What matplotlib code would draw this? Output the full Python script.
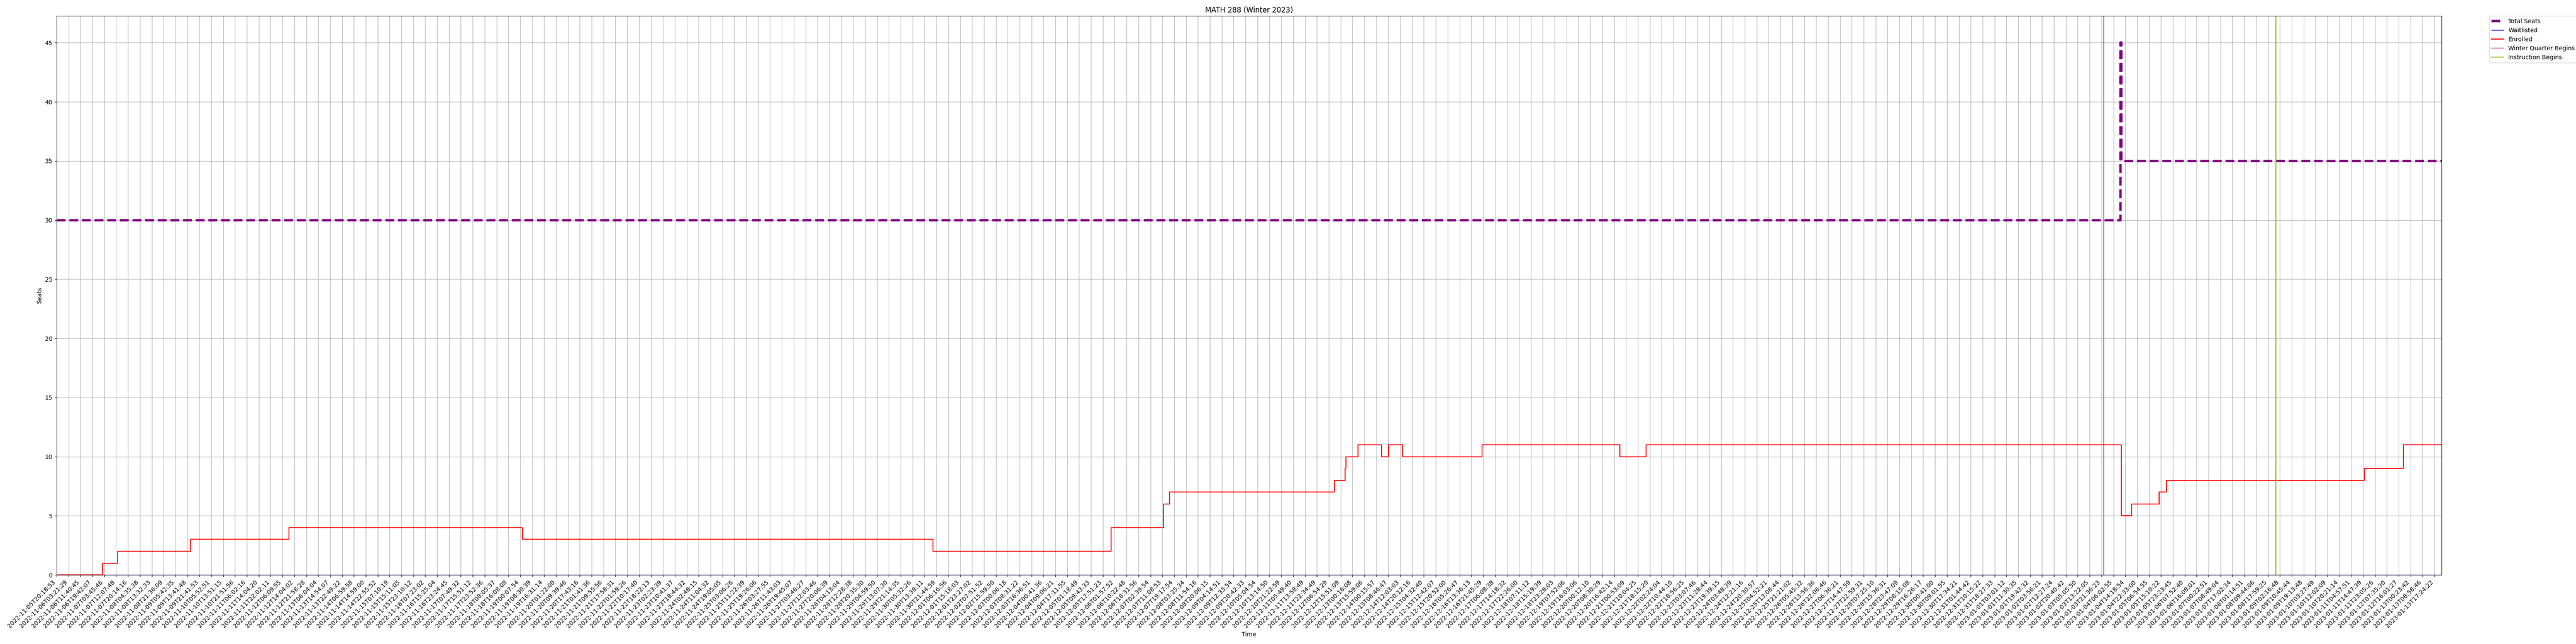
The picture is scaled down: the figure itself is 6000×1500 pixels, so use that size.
import matplotlib
matplotlib.use("Agg")
import matplotlib.pyplot as plt

# ---------------- data ----------------
time_labels = [
    "2022-11-05T20:18:53", "2022-11-06T03:21:29", "2022-11-06T11:40:45", "2022-11-06T19:42:07",
    "2022-11-07T03:45:46", "2022-11-07T12:07:48", "2022-11-07T20:14:16", "2022-11-08T04:35:38",
    "2022-11-08T13:32:33", "2022-11-08T21:36:09", "2022-11-09T05:42:35", "2022-11-09T13:41:48",
    "2022-11-09T21:41:53", "2022-11-10T05:52:51", "2022-11-10T13:51:15", "2022-11-10T21:51:56",
    "2022-11-11T06:02:16", "2022-11-11T14:04:20", "2022-11-11T22:02:11", "2022-11-12T06:09:55",
    "2022-11-12T14:04:02", "2022-11-12T21:58:28", "2022-11-13T06:04:04", "2022-11-13T14:54:07",
    "2022-11-13T22:49:22", "2022-11-14T06:59:58", "2022-11-14T14:59:00", "2022-11-14T22:55:52",
    "2022-11-15T07:10:19", "2022-11-15T15:11:05", "2022-11-15T23:10:12", "2022-11-16T07:23:02",
    "2022-11-16T15:25:04", "2022-11-16T23:24:45", "2022-11-17T07:49:32", "2022-11-17T15:51:12",
    "2022-11-17T23:52:36", "2022-11-18T08:05:37", "2022-11-18T16:08:08", "2022-11-19T00:07:54",
    "2022-11-19T08:30:39", "2022-11-19T16:31:14", "2022-11-20T01:22:00", "2022-11-20T09:39:46",
    "2022-11-20T17:43:16", "2022-11-21T01:41:36", "2022-11-21T09:55:56", "2022-11-21T17:58:31",
    "2022-11-22T01:59:26", "2022-11-22T10:17:40", "2022-11-22T18:22:13", "2022-11-23T02:23:39",
    "2022-11-23T10:41:37", "2022-11-23T18:44:32", "2022-11-24T02:48:15", "2022-11-24T11:04:32",
    "2022-11-24T19:05:05", "2022-11-25T03:06:26", "2022-11-25T11:22:39", "2022-11-25T19:26:06",
    "2022-11-26T03:27:55", "2022-11-26T11:43:03", "2022-11-26T19:45:07", "2022-11-27T03:46:27",
    "2022-11-27T12:03:46", "2022-11-27T20:06:39", "2022-11-28T04:13:04", "2022-11-28T12:28:38",
    "2022-11-28T20:35:30", "2022-11-29T04:59:50", "2022-11-29T13:07:30", "2022-11-29T21:14:35",
    "2022-11-30T05:32:26", "2022-11-30T13:39:11", "2022-11-30T21:44:59", "2022-12-01T06:16:56",
    "2022-12-01T15:18:03", "2022-12-01T23:27:02", "2022-12-02T07:51:52", "2022-12-02T15:59:50",
    "2022-12-03T00:06:18", "2022-12-03T08:31:22", "2022-12-03T16:36:51", "2022-12-04T00:41:36",
    "2022-12-04T09:06:21", "2022-12-04T17:11:55", "2022-12-05T01:18:49", "2022-12-05T09:43:33",
    "2022-12-05T17:51:23", "2022-12-06T01:57:52", "2022-12-06T10:22:48", "2022-12-06T18:31:56",
    "2022-12-07T02:39:54", "2022-12-07T11:08:53", "2022-12-07T19:17:54", "2022-12-08T03:25:34",
    "2022-12-08T11:54:16", "2022-12-08T20:06:15", "2022-12-09T04:14:51", "2022-12-09T12:33:54",
    "2022-12-09T20:42:33", "2022-12-10T05:04:54", "2022-12-10T13:14:50", "2022-12-10T21:22:59",
    "2022-12-11T05:49:40", "2022-12-11T13:58:49", "2022-12-11T22:34:49", "2022-12-12T06:54:29",
    "2022-12-12T15:51:09", "2022-12-13T00:16:08", "2022-12-13T15:59:06", "2022-12-14T00:15:57",
    "2022-12-13T08:46:47", "2022-12-14T12:03:03", "2022-12-14T20:12:16", "2022-12-15T04:32:40",
    "2022-12-15T12:42:07", "2022-12-15T20:52:00", "2022-12-16T05:26:47", "2022-12-16T13:36:13",
    "2022-12-16T21:45:29", "2022-12-17T06:08:38", "2022-12-17T14:18:32", "2022-12-17T22:26:00",
    "2022-12-18T07:11:12", "2022-12-18T15:19:39", "2022-12-18T23:28:03", "2022-12-19T07:52:06",
    "2022-12-19T16:03:06", "2022-12-20T00:12:10", "2022-12-20T08:30:29", "2022-12-20T16:42:14",
    "2022-12-21T00:53:09", "2022-12-21T10:04:25", "2022-12-21T18:15:20", "2022-12-22T02:24:04",
    "2022-12-22T10:44:10", "2022-12-22T18:56:25", "2022-12-23T03:07:46", "2022-12-23T11:28:44",
    "2022-12-23T19:39:15", "2022-12-24T03:48:39", "2022-12-24T12:21:16", "2022-12-24T20:30:57",
    "2022-12-25T04:52:21", "2022-12-25T13:08:44", "2022-12-25T21:21:02", "2022-12-26T05:45:32",
    "2022-12-26T13:56:36", "2022-12-26T22:06:46", "2022-12-27T06:36:21", "2022-12-27T14:47:59",
    "2022-12-27T22:59:31", "2022-12-28T07:25:10", "2022-12-28T15:36:31", "2022-12-28T23:47:09",
    "2022-12-29T08:15:08", "2022-12-29T16:26:17", "2022-12-30T00:41:00", "2022-12-30T09:01:55",
    "2022-12-30T17:34:21", "2022-12-31T01:44:42", "2022-12-31T10:15:22", "2022-12-31T18:27:33",
    "2023-01-01T03:01:12", "2023-01-01T11:30:35", "2023-01-01T19:43:32", "2023-01-02T03:56:21",
    "2023-01-02T12:27:24", "2023-01-02T20:40:42", "2023-01-03T05:05:50", "2023-01-03T13:22:05",
    "2023-01-03T21:36:23", "2023-01-04T06:02:55", "2023-01-04T14:18:54", "2023-01-04T22:33:00",
    "2023-01-05T06:54:55", "2023-01-05T15:10:22", "2023-01-05T23:23:45", "2023-01-06T07:52:40",
    "2023-01-06T16:08:01", "2023-01-07T00:22:51", "2023-01-07T08:49:04", "2023-01-07T17:02:34",
    "2023-01-08T01:14:51", "2023-01-08T09:44:06", "2023-01-08T17:59:25", "2023-01-09T02:16:48",
    "2023-01-09T10:45:44", "2023-01-09T19:13:48", "2023-01-10T03:27:49", "2023-01-10T12:02:09",
    "2023-01-10T20:21:14", "2023-01-11T04:57:51", "2023-01-11T14:47:39", "2023-01-11T23:05:26",
    "2023-01-12T07:35:30", "2023-01-12T16:01:27", "2023-01-13T00:23:42", "2023-01-13T08:58:46",
    "2023-01-13T17:24:22",
]

# positions (in label-index units) where values change, and the values from there on
total_pos = [0, 173.60, 173.66, 200.6]
total_seats = [30, 45, 35, 35]

waitlist_pos = [0, 200.6]
waitlisted = [0, 0]

enrolled_pos = [0, 3.87, 5.14, 11.26, 19.55, 39.2, 73.7, 88.7, 93.1, 93.6,
                107.47, 108.37, 108.43, 109.45, 111.44, 112.03, 113.22, 119.9,
                131.5, 133.7, 173.65, 174.55, 176.86, 177.47, 194.1, 197.4, 200.6]
enrolled = [0, 1, 2, 3, 4, 3, 2, 4, 6, 7,
            8, 9, 10, 11, 10, 11, 10, 11,
            10, 11, 5, 6, 7, 8, 9, 11, 11]

winter_quarter_pos = 172.2
instruction_pos = 186.68

title = "MATH 288 (Winter 2023)"

# ---------------- plot ----------------
fig = plt.figure(figsize=(60, 15), dpi=100)
ax = fig.add_axes([0.022, 0.1073, 0.9258, 0.8678])

ax.step(total_pos, total_seats, where="post", color="purple", linestyle="--",
        linewidth=4, label="Total Seats")
ax.step(waitlist_pos, waitlisted, where="post", color="blue", linewidth=1,
        label="Waitlisted")
ax.step(enrolled_pos, enrolled, where="post", color="red", linewidth=1.6,
        label="Enrolled")
ax.axvline(winter_quarter_pos, color="#e3189c", linewidth=1.2,
           label="Winter Quarter Begins")
ax.axvline(instruction_pos, color="#8fb81a", linewidth=1.5,
           label="Instruction Begins")

ax.set_xticks(range(len(time_labels)))
ax.set_xticklabels(time_labels, rotation=45, ha="right")
ax.set_xlim(0, enrolled_pos[-1])
ax.set_ylim(0, 47.25)
ax.set_yticks(range(0, 50, 5))
ax.grid(True)

ax.set_title(title)
ax.set_xlabel("Time")
ax.set_ylabel("Seats")
ax.legend(loc="upper left", bbox_to_anchor=(1.02, 1), borderaxespad=0)

fig.savefig("out.png", dpi=100)
